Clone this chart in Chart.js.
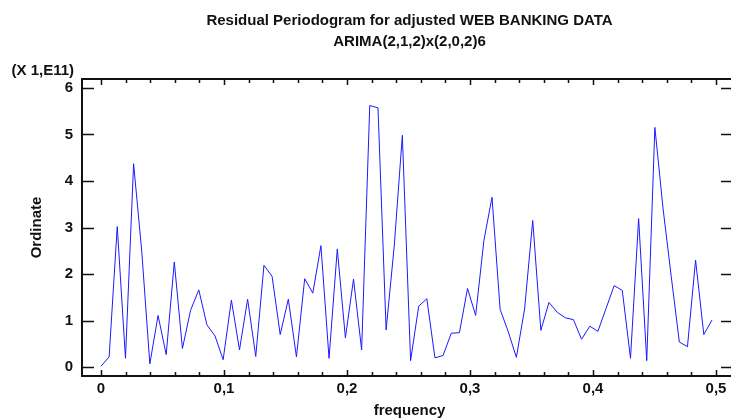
<!DOCTYPE html>
<html>
<head>
<meta charset="utf-8">
<title>Residual Periodogram</title>
<script src="https://cdn.jsdelivr.net/npm/chart.js"></script>
<style>
  html, body { margin: 0; padding: 0; background: #fff; }
  canvas { display: block; }
</style>
</head>
<body>
<canvas id="periodogram" width="731" height="419"></canvas>
<script>
// Fourier frequencies k/151, k = 0..75
const frequency = [
  0, 0.0066, 0.0132, 0.0199, 0.0265, 0.0331, 0.0397, 0.0464, 0.0530, 0.0596,
  0.0662, 0.0728, 0.0795, 0.0861, 0.0927, 0.0993, 0.1060, 0.1126, 0.1192, 0.1258,
  0.1325, 0.1391, 0.1457, 0.1523, 0.1589, 0.1656, 0.1722, 0.1788, 0.1854, 0.1921,
  0.1987, 0.2053, 0.2119, 0.2185, 0.2252, 0.2318, 0.2384, 0.2450, 0.2517, 0.2583,
  0.2649, 0.2715, 0.2781, 0.2848, 0.2914, 0.2980, 0.3046, 0.3113, 0.3179, 0.3245,
  0.3311, 0.3377, 0.3444, 0.3510, 0.3576, 0.3642, 0.3709, 0.3775, 0.3841, 0.3907,
  0.3974, 0.4040, 0.4106, 0.4172, 0.4238, 0.4305, 0.4371, 0.4437, 0.4503, 0.4570,
  0.4636, 0.4702, 0.4768, 0.4834, 0.4901, 0.4967
];

// periodogram ordinate, in units of 1E11
const ordinate = [
  0.02, 0.22, 3.02, 0.19, 4.37, 2.50, 0.07, 1.11, 0.27, 2.26,
  0.40, 1.22, 1.66, 0.91, 0.67, 0.16, 1.44, 0.37, 1.46, 0.23,
  2.19, 1.95, 0.70, 1.46, 0.22, 1.90, 1.59, 2.61, 0.19, 2.54,
  0.63, 1.89, 0.37, 5.62, 5.57, 0.80, 2.60, 4.98, 0.14, 1.31,
  1.47, 0.20, 0.25, 0.73, 0.74, 1.69, 1.11, 2.72, 3.65, 1.24,
  0.76, 0.21, 1.25, 3.15, 0.79, 1.39, 1.18, 1.06, 1.02, 0.60,
  0.88, 0.77, 1.26, 1.75, 1.65, 0.19, 3.19, 0.14, 5.15, 3.40,
  1.95, 0.54, 0.44, 2.30, 0.70, 1.01
];

const xMajorTicks = [0, 0.1, 0.2, 0.3, 0.4, 0.5];
const xMinorTicks = [0.02, 0.04, 0.06, 0.08, 0.12, 0.14, 0.16, 0.18, 0.22, 0.24, 0.26, 0.28,
                     0.32, 0.34, 0.36, 0.38, 0.42, 0.44, 0.46, 0.48];
const xTickLabels = ['0', '0,1', '0,2', '0,3', '0,4', '0,5'];
const yTicks = [0, 1, 2, 3, 4, 5, 6];
const yTickLabels = ['0', '1', '2', '3', '4', '5', '6'];

const titleLines = ['Residual Periodogram for adjusted WEB BANKING DATA', 'ARIMA(2,1,2)x(2,0,2)6'];
const yUnitLabel = '(X 1,E11)';
const xAxisTitle = 'frequency';
const yAxisTitle = 'Ordinate';

const FONT = 'bold 15px "Liberation Sans", Arial, sans-serif';
const INK = '#111';

// frame, inward ticks and all text, positioned with the chart's own scales
const framePlugin = {
  id: 'statFrame',
  afterDraw(chart) {
    const { ctx, chartArea: a, scales: { x, y } } = chart;
    ctx.save();
    ctx.strokeStyle = INK;
    ctx.fillStyle = INK;

    // frame (right side runs off the canvas edge)
    ctx.lineWidth = 2;
    ctx.beginPath();
    ctx.moveTo(a.right + 2, a.top);
    ctx.lineTo(a.left, a.top);
    ctx.lineTo(a.left, a.bottom);
    ctx.lineTo(a.right + 2, a.bottom);
    ctx.stroke();

    // x ticks on bottom and top edges
    ctx.lineWidth = 1.5;
    ctx.beginPath();
    xMajorTicks.forEach(v => {
      const px = Math.round(x.getPixelForValue(v)) + 0.5;
      ctx.moveTo(px, a.bottom); ctx.lineTo(px, a.bottom - 6);
      ctx.moveTo(px, a.top); ctx.lineTo(px, a.top + 6);
    });
    xMinorTicks.forEach(v => {
      const px = Math.round(x.getPixelForValue(v)) + 0.5;
      ctx.moveTo(px, a.bottom); ctx.lineTo(px, a.bottom - 4);
      ctx.moveTo(px, a.top); ctx.lineTo(px, a.top + 4);
    });
    // y ticks on left and right edges
    yTicks.forEach(v => {
      const py = Math.round(y.getPixelForValue(v)) + 0.5;
      ctx.moveTo(a.left, py); ctx.lineTo(a.left + 12, py);
      ctx.moveTo(a.right + 2, py); ctx.lineTo(a.right - 10, py);
    });
    ctx.stroke();

    ctx.font = FONT;

    // tick labels
    ctx.textAlign = 'center';
    ctx.textBaseline = 'middle';
    xMajorTicks.forEach((v, i) => {
      ctx.fillText(xTickLabels[i], x.getPixelForValue(v), a.bottom + 13);
    });
    ctx.textAlign = 'right';
    yTicks.forEach((v, i) => {
      ctx.fillText(yTickLabels[i], a.left - 9, y.getPixelForValue(v));
    });
    ctx.fillText(yUnitLabel, a.left - 8, a.top - 8);

    // titles
    ctx.textAlign = 'center';
    const cx = (a.left + a.right) / 2 + 3;
    ctx.fillText(titleLines[0], cx, 21);
    ctx.fillText(titleLines[1], cx, 42);
    ctx.fillText(xAxisTitle, cx, a.bottom + 35);

    ctx.translate(37, (a.top + a.bottom) / 2);
    ctx.rotate(-Math.PI / 2);
    ctx.fillText(yAxisTitle, 0, 0);
    ctx.restore();
  }
};

new Chart(document.getElementById('periodogram'), {
  type: 'line',
  data: {
    datasets: [{
      data: frequency.map((f, i) => ({ x: f, y: ordinate[i] })),
      borderColor: '#1a1aff',
      borderWidth: 1,
      pointRadius: 0,
      tension: 0,
      fill: false
    }]
  },
  options: {
    responsive: false,
    animation: false,
    devicePixelRatio: 1,
    layout: { padding: { left: 82, top: 79, right: 0, bottom: 43 } },
    plugins: { legend: { display: false }, tooltip: { enabled: false } },
    scales: {
      x: { type: 'linear', display: false, min: -0.01545, max: 0.5122 },
      y: { display: false, min: -0.19, max: 6.19 }
    }
  },
  plugins: [framePlugin]
});
</script>
</body>
</html>
